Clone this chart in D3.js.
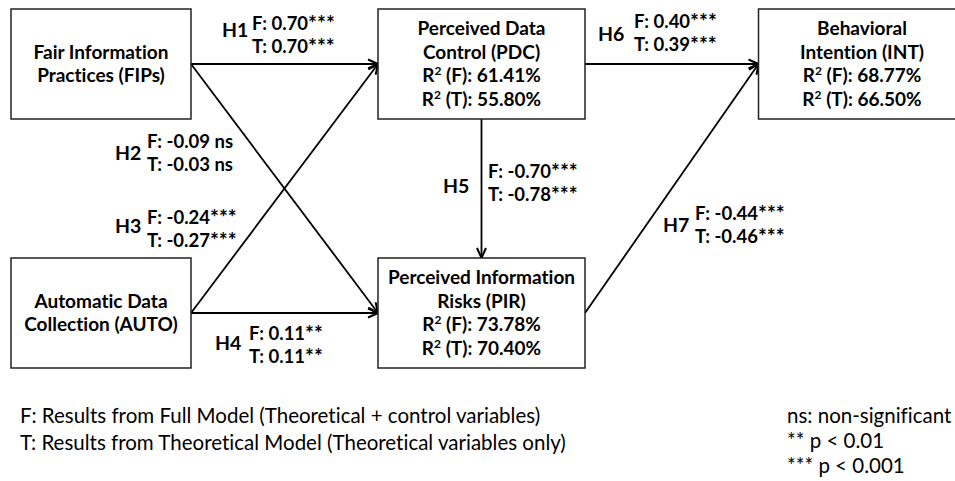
<!DOCTYPE html>
<html>
<head>
<meta charset="utf-8">
<script src="https://cdn.jsdelivr.net/npm/d3@7"></script>
<style>
  html, body { margin: 0; padding: 0; background: #fff; }
  svg { display: block; }
  text { font-family: Lato, "Open Sans", sans-serif; fill: #000; font-variant-ligatures: none; }
</style>
</head>
<body>
<svg id="chart" width="955" height="481"></svg>
<script>
// Constructs of the research model
const constructIds   = ["FIPs", "AUTO", "PDC", "PIR", "INT"];
const constructNames = [
  ["Fair Information", "Practices (FIPs)"],
  ["Automatic Data", "Collection (AUTO)"],
  ["Perceived Data", "Control (PDC)"],
  ["Perceived Information", "Risks (PIR)"],
  ["Behavioral", "Intention (INT)"]
];
const constructCol = [0, 0, 1, 1, 2];
const constructRow = [0, 1, 0, 1, 0];
// Explained variance (R²) in the full (F) and theoretical (T) models
const r2Full   = [null, null, 61.41, 73.78, 68.77];
const r2Theory = [null, null, 55.80, 70.40, 66.50];

// Hypothesised paths with standardised coefficients
const hypotheses  = ["H1", "H2", "H3", "H4", "H5", "H6", "H7"];
const pathFrom    = ["FIPs", "FIPs", "AUTO", "AUTO", "PDC", "PDC", "PIR"];
const pathTo      = ["PDC", "PIR", "PDC", "PIR", "PIR", "INT", "INT"];
const coefFull    = [0.70, -0.09, -0.24, 0.11, -0.70, 0.40, -0.44];
const coefTheory  = [0.70, -0.03, -0.27, 0.11, -0.78, 0.39, -0.46];
const sigFull     = ["***", "ns", "***", "**", "***", "***", "***"];
const sigTheory   = ["***", "ns", "***", "**", "***", "***", "***"];

// Notes below the model
const modelNotes = [
  "F: Results from Full Model (Theoretical + control variables)",
  "T: Results from Theoretical Model (Theoretical variables only)"
];
const sigNotes = ["ns: non-significant", "** p < 0.01", "*** p < 0.001"];

// ---- layout ----
const svg = d3.select("#chart");
const x = d3.scalePoint().domain([0, 1, 2]).range([101, 862]);
const y = d3.scalePoint().domain([0, 1]).range([64, 313]);
const boxW = [180, 207, 207];
const boxH = 110;
const lineGap = 23.7;

// label anchors for each path: H label, coefficient block (F baseline)
const labelPos = {
  H1: { h: [222, 37],  v: [252, 30] },
  H2: { h: [115, 160], v: [147, 148] },
  H3: { h: [115, 233], v: [147, 224] },
  H4: { h: [215, 350], v: [249, 340] },
  H5: { h: [443, 193], v: [488, 178] },
  H6: { h: [598, 41],  v: [634, 28] },
  H7: { h: [663, 232], v: [695, 220] }
};

const nodes = constructIds.map((id, i) => {
  const cx = x(constructCol[i]), cy = y(constructRow[i]);
  const w = boxW[constructCol[i]];
  return {
    id, cx, cy, w,
    x0: cx - w / 2, x1: cx + w / 2, y0: cy - boxH / 2, y1: cy + boxH / 2,
    names: constructNames[i], rf: r2Full[i], rt: r2Theory[i]
  };
});
const byId = new Map(nodes.map(n => [n.id, n]));

// arrowhead
svg.append("defs").append("marker")
  .attr("id", "arrow")
  .attr("viewBox", "0 0 12 12")
  .attr("refX", 11).attr("refY", 6)
  .attr("markerWidth", 12).attr("markerHeight", 12)
  .attr("markerUnits", "userSpaceOnUse")
  .attr("orient", "auto")
  .append("path")
  .attr("d", "M1,1.5 L11,6 L1,10.5")
  .attr("fill", "none")
  .attr("stroke", "#000")
  .attr("stroke-width", 2);

// paths
const paths = hypotheses.map((h, i) => {
  const s = byId.get(pathFrom[i]), t = byId.get(pathTo[i]);
  let p;
  if (s.cx === t.cx) p = [[s.cx, s.y1], [t.cx, t.y0]];
  else p = [[s.x1, s.cy], [t.x0, t.cy]];
  return { h, p };
});

svg.append("g").selectAll("line").data(paths).join("line")
  .attr("x1", d => d.p[0][0]).attr("y1", d => d.p[0][1])
  .attr("x2", d => d.p[1][0]).attr("y2", d => d.p[1][1])
  .attr("stroke", "#000").attr("stroke-width", 1.8)
  .attr("marker-end", "url(#arrow)");

// construct boxes
const boxes = svg.append("g").selectAll("g").data(nodes).join("g");
boxes.append("rect")
  .attr("x", d => d.x0).attr("y", d => d.y0)
  .attr("width", d => d.w).attr("height", boxH)
  .attr("fill", "#fff").attr("stroke", "#222").attr("stroke-width", 1.5);

const fmtPct = v => v.toFixed(2) + "%";
boxes.each(function (d) {
  const g = d3.select(this);
  const lines = d.names.map(t => ({ text: t }));
  if (d.rf != null) {
    lines.push({ r2: "(F): " + fmtPct(d.rf) });
    lines.push({ r2: "(T): " + fmtPct(d.rt) });
  }
  const n = lines.length;
  lines.forEach((ln, i) => {
    const ty = d.cy + (i - (n - 1) / 2) * lineGap + 6.5;
    const t = g.append("text")
      .attr("x", d.cx).attr("y", ty)
      .attr("text-anchor", "middle")
      .attr("font-weight", 700).attr("font-size", 19);
    if (ln.text) t.text(ln.text);
    else {
      t.append("tspan").text("R");
      t.append("tspan").attr("dy", -7).attr("font-size", 12).text("2");
      t.append("tspan").attr("dy", 7).text(" " + ln.r2);
    }
  });
});

// path labels
const fmtCoef = v => v.toFixed(2);
const labels = svg.append("g");
function coefText(sel, prefix, v, sig) {
  sel.append("tspan").text(prefix + fmtCoef(v) + (sig === "ns" ? " ns" : ""));
  if (sig !== "ns") sel.append("tspan").attr("font-size", 21).attr("dy", 1).text(sig);
}
hypotheses.forEach((h, i) => {
  const pos = labelPos[h];
  labels.append("text")
    .attr("x", pos.h[0]).attr("y", pos.h[1])
    .attr("font-weight", 700).attr("font-size", 19.5)
    .text(h);
  labels.append("text")
    .attr("x", pos.v[0]).attr("y", pos.v[1])
    .attr("font-weight", 700).attr("font-size", 18.5)
    .call(coefText, "F: ", coefFull[i], sigFull[i]);
  labels.append("text")
    .attr("x", pos.v[0]).attr("y", pos.v[1] + 23)
    .attr("font-weight", 700).attr("font-size", 18.5)
    .call(coefText, "T: ", coefTheory[i], sigTheory[i]);
});

// notes
const notes = svg.append("g");
notes.selectAll("text.model").data(modelNotes).join("text")
  .attr("class", "model")
  .attr("x", 20).attr("y", (d, i) => 423 + i * 27)
  .attr("font-size", 20.5)
  .text(d => d);
notes.selectAll("text.sig").data(sigNotes).join("text")
  .attr("class", "sig")
  .attr("x", 787).attr("y", (d, i) => 423 + i * 25)
  .attr("font-size", 20.5)
  .text(d => d);
</script>
</body>
</html>
